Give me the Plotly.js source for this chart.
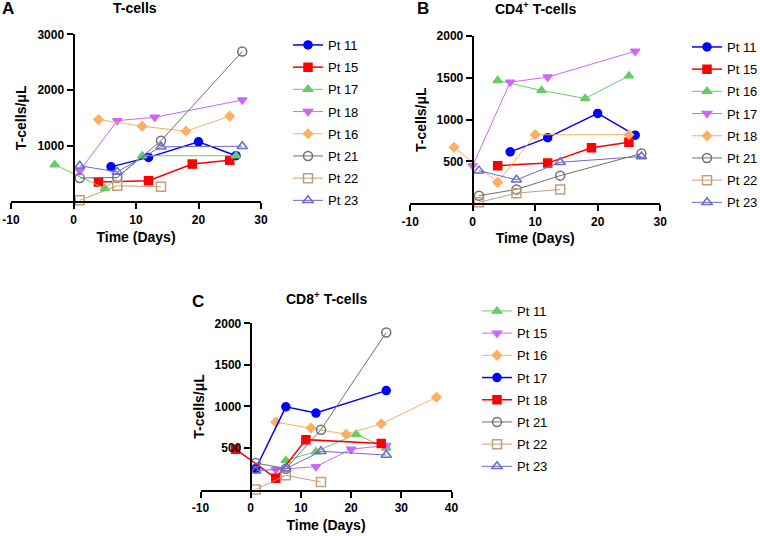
<!DOCTYPE html>
<html>
<head>
<meta charset="utf-8">
<script src="https://cdn.plot.ly/plotly-3.0.1.min.js"></script>
<style>html,body{margin:0;padding:0;background:#fff;}#chart{width:760px;height:536px;}</style>
</head>
<body>
<div id="chart"></div>
<script>
// ---------- DATA ----------
// Panel A: T-cells
const namesA = ['Pt 11','Pt 15','Pt 17','Pt 18','Pt 16','Pt 21','Pt 22','Pt 23'];
const daysA = [[6,12,20,26],[4,12,19,25],[-3,5,11,26],[1,7,13,27],[4,11,18,25],[1,7,14,27],[1,7,14],[1,7,14,27]];
const valuesA = [[620,790,1070,820],[350,370,670,740],[660,230,820,820],[550,1450,1510,1820],[1470,1350,1260,1530],[420,430,1090,2690],[20,280,265],[640,530,980,990]];

// Panel B: CD4+ T-cells
const namesB = ['Pt 11','Pt 15','Pt 16','Pt 17','Pt 18','Pt 21','Pt 22','Pt 23'];
const daysB = [[6,12,20,26],[4,12,19,25],[4,11,18,25],[0,6,12,26],[-3,4,10,25],[1,7,14,27],[1,7,14],[1,7,14,27]];
const valuesB = [[615,785,1075,815],[450,480,665,730],[1470,1350,1255,1525],[450,1450,1510,1820],[670,250,820,820],[90,165,330,595],[10,120,165],[390,280,490,560]];

// Panel C: CD8+ T-cells
const namesC = ['Pt 11','Pt 15','Pt 16','Pt 17','Pt 18','Pt 21','Pt 22','Pt 23'];
const daysC = [[7,13,21,27],[5,13,20,27],[5,12,19,26,37],[1,7,13,27],[-3,5,11,26],[1,7,14,27],[1,7,14],[1,7,14,27]];
const valuesC = [[350,455,665,500],[240,275,485,530],[810,740,665,790,1110],[250,995,920,1190],[485,135,600,555],[320,250,720,1890],[0,170,90],[225,250,460,415]];

// Tick labels
const xTicksAB = [-10,0,10,20,30];
const xTicksC = [-10,0,10,20,30,40];
const yTicksA = [1000,2000,3000];
const yTicksBC = [500,1000,1500,2000];

// ---------- STYLES ----------
const ST = {
  blue:   {color:'#0000ff', symbol:'circle', size:8, lw:1.5},
  red:    {color:'#ff0000', symbol:'square', size:8, lw:1.5},
  green:  {color:'#66cc66', symbol:'triangle-up', size:8, lw:1},
  violet: {color:'#cc66ff', symbol:'triangle-down', size:8, lw:1},
  orange: {color:'#f9b062', symbol:'diamond', size:7, lw:1},
  gray:   {color:'#707070', symbol:'circle-open', size:9, lw:1},
  tan:    {color:'#c49e78', symbol:'square-open', size:9, lw:1},
  slate:  {color:'#6b6bcc', symbol:'triangle-up-open', size:9, lw:1}
};
const orderAB = ['blue','red','green','violet','orange','gray','tan','slate'];
const orderC  = ['green','violet','orange','blue','red','gray','tan','slate'];

const W = 760, H = 536;
const fx = p => p / W;
const fy = p => 1 - p / H;
const FONT = 'Arial, "Liberation Sans", Helvetica, sans-serif';

const traces = [];
function addPanel(names, days, vals, order, xa, ya, leg){
  names.forEach((n,i)=>{
    const s = ST[order[i]];
    traces.push({
      type:'scatter', mode:'lines+markers', name:n,
      x: days[i], y: vals[i], xaxis: xa, yaxis: ya,
      legend: leg, legendgroup: leg + n,
      cliponaxis:false,
      line:{color:s.color, width:s.lw},
      marker:{color:s.color, symbol:s.symbol, size:s.size, line:{color:s.color, width:1.5}}
    });
  });
}
addPanel(namesA, daysA, valuesA, orderAB, 'x', 'y', 'legend');
addPanel(namesB, daysB, valuesB, orderAB, 'x2', 'y2', 'legend2');
addPanel(namesC, daysC, valuesC, orderC, 'x3', 'y3', 'legend3');

const tickFont = {family:FONT, size:12, color:'#000', weight:'bold'};
const titleFont = {family:FONT, size:14, color:'#000', weight:'bold'};
function xAxis(domain, range, ticks, anchor){
  return {domain:domain, range:range, anchor:anchor, tickvals:ticks, ticktext:ticks.map(String),
    showline:true, linecolor:'#000', linewidth:2, ticks:'outside', ticklen:6, tickwidth:2, tickcolor:'#000',
    showgrid:false, zeroline:false, tickfont:tickFont, fixedrange:true,
    title:{text:'Time (Days)', font:titleFont, standoff:6}};
}
function yAxis(domain, range, ticks, pos){
  return {domain:domain, range:range, anchor:'free', position:pos, tickvals:ticks, ticktext:ticks.map(String),
    showline:true, linecolor:'#000', linewidth:2, ticks:'outside', ticklen:6, tickwidth:2, tickcolor:'#000',
    showgrid:false, zeroline:false, tickfont:tickFont, fixedrange:true,
    title:{text:'T-cells/μL', font:titleFont, standoff:6}};
}
const legFont = {family:FONT, size:13, color:'#000'};
function legend(xp, yp){
  return {x:fx(xp), y:fy(yp), xanchor:'left', yanchor:'top', font:legFont, bgcolor:'rgba(0,0,0,0)',
    borderwidth:0, traceorder:'grouped', tracegroupgap:2.3, itemwidth:30};
}

const layout = {
  width:W, height:H, margin:{l:0,r:0,t:0,b:0,autoexpand:false},
  paper_bgcolor:'#fff', plot_bgcolor:'rgba(0,0,0,0)', font:{family:FONT, color:'#000'},
  showlegend:true,
  xaxis: xAxis([fx(11), fx(261)], [-10,30], xTicksAB, 'y'),
  yaxis: yAxis([fy(201.4), fy(34.3)], [0,3000], yTicksA, fx(73.5)),
  xaxis2: xAxis([fx(410.2), fx(660.2)], [-10,30], xTicksAB, 'y2'),
  yaxis2: yAxis([fy(203.2), fy(36.2)], [0,2000], yTicksBC, fx(472.7)),
  xaxis3: xAxis([fx(200.5), fx(451.5)], [-10,40], xTicksC, 'y3'),
  yaxis3: yAxis([fy(489.5), fy(323.3)], [0,2000], yTicksBC, fx(250.7)),
  legend: legend(288, 30),
  legend2: legend(687, 32),
  legend3: legend(477, 296),
  annotations: [
    {text:'A', x:fx(8), y:fy(9), xref:'paper', yref:'paper', showarrow:false, font:{family:FONT,size:17,weight:'bold'}, xanchor:'center', yanchor:'middle'},
    {text:'T-cells', x:fx(135), y:fy(8.5), xref:'paper', yref:'paper', showarrow:false, font:titleFont, xanchor:'center', yanchor:'middle'},
    {text:'B', x:fx(423), y:fy(9), xref:'paper', yref:'paper', showarrow:false, font:{family:FONT,size:17,weight:'bold'}, xanchor:'center', yanchor:'middle'},
    {text:'CD4<sup>+</sup> T-cells', x:fx(535), y:fy(8.5), xref:'paper', yref:'paper', showarrow:false, font:titleFont, xanchor:'center', yanchor:'middle'},
    {text:'C', x:fx(198), y:fy(301), xref:'paper', yref:'paper', showarrow:false, font:{family:FONT,size:17,weight:'bold'}, xanchor:'center', yanchor:'middle'},
    {text:'CD8<sup>+</sup> T-cells', x:fx(326), y:fy(298), xref:'paper', yref:'paper', showarrow:false, font:titleFont, xanchor:'center', yanchor:'middle'}
  ]
};

Plotly.newPlot('chart', traces, layout, {staticPlot:true, displayModeBar:false});
</script>
</body>
</html>
